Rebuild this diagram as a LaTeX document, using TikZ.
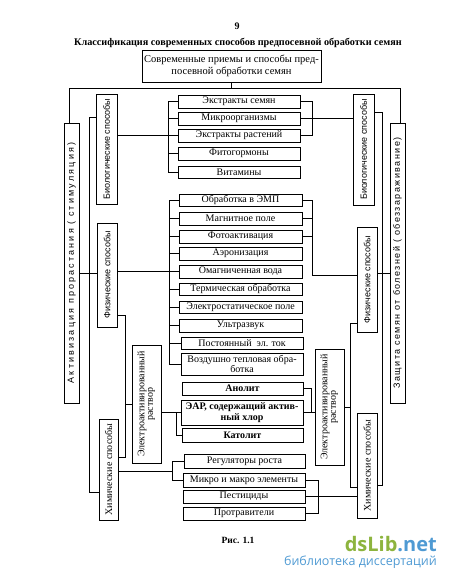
\documentclass[tikz,border=0pt]{standalone}
\usepackage{fontspec}
\usepackage{graphicx}
\setmainfont{Liberation Serif}
\setsansfont{Liberation Sans}
\newfontfamily\wmfont{Open Sans}
\definecolor{wmgreen}{HTML}{8DB43E}
\definecolor{wmblue}{HTML}{4F9AD3}
\newcommand{\bxnode}[7]{\node[#6, minimum width={(#4-#2)*1pt}, minimum height={(#5-#3)*1pt}] (#1) at ({(#2+#4)/2},{(#3+#5)/2}) {#7};}
\newcommand{\rottext}[1]{\rotatebox{90}{#1}}
\tikzset{
  bx/.style={draw, line width=0.7pt, inner sep=0pt, align=center, font=\fontsize{10}{10.5}\selectfont},
  bxb/.style={bx, font=\bfseries\fontsize{10}{11}\selectfont},
  rb/.style={draw, line width=0.7pt, inner sep=0pt, font=\sffamily\fontsize{9}{10}\selectfont},
  rbs/.style={draw, line width=0.7pt, inner sep=0pt, font=\fontsize{10}{10.5}\selectfont},
  ln/.style={line width=0.6pt}
}
\begin{document}
\begin{tikzpicture}[x=1pt,y=-1pt]
\useasboundingbox (0,0) rectangle (450,581);
% headings
\node[font=\bfseries\fontsize{10}{12}\selectfont] (pg) at (237,26) {9};
\node[font=\bfseries\fontsize{10.2}{12}\selectfont] (ttl) at (238,43) {Классификация современных способов предпосевной обработки семян};
\bxnode{top}{142}{50}{321}{82}{bx, font=\fontsize{10.5}{12}\selectfont}{Современные приемы и способы пред-\\посевной обработки семян}
% left vertical boxes
\bxnode{actL}{64}{123}{79}{403}{rb}{\rottext{\addfontfeatures{LetterSpace=24}Активизация прорастания ( стимуляция)}}
\bxnode{bioL}{96}{94}{117}{204}{rb}{\rottext{Биологические способы}}
\bxnode{fizL}{97}{223}{117}{327}{rb}{\rottext{Физические способы}}
\bxnode{elL}{132}{345}{161}{463}{rbs}{\rottext{\begin{tabular}{@{}c@{}}Электроактивированный\\[-2pt]раствор\end{tabular}}}
\bxnode{himL}{99}{419}{118}{520}{rbs}{\rottext{Химические способы}}
% right vertical boxes
\bxnode{actR}{390}{123}{405}{403}{rb}{\rottext{\addfontfeatures{LetterSpace=16}Защита семян от болезней ( обеззараживание)}}
\bxnode{bioR}{353}{94}{374}{205}{rb}{\rottext{Биологические способы}}
\bxnode{fizR}{357}{227}{377}{332}{rb}{\rottext{Физические способы}}
\bxnode{elR}{315}{349}{344}{465}{rbs}{\rottext{\begin{tabular}{@{}c@{}}Электроактивированный\\[-2pt]раствор\end{tabular}}}
\bxnode{himR}{357}{413}{377}{518}{rbs}{\rottext{Химические способы}}
% biological items
\bxnode{b1}{178}{95}{300}{108}{bx}{Экстракты семян}
\bxnode{b2}{178}{112}{300}{125}{bx}{Микроорганизмы}
\bxnode{b3}{178}{129}{300}{142}{bx}{Экстракты растений}
\bxnode{b4}{178}{147}{300}{160}{bx}{Фитогормоны}
\bxnode{b5}{178}{166}{300}{178}{bx}{Витамины}
% physical items
\bxnode{p1}{179}{194}{302}{206}{bx}{Обработка в ЭМП}
\bxnode{p2}{179}{212}{302}{225}{bx}{Магнитное поле}
\bxnode{p3}{179}{230}{302}{243}{bx}{Фотоактивация}
\bxnode{p4}{179}{247}{302}{260}{bx}{Аэронизация}
\bxnode{p5}{179}{265}{302}{278}{bx}{Омагниченная вода}
\bxnode{p6}{179}{283}{302}{295}{bx}{Термическая обработка}
\bxnode{p7}{179}{301}{302}{313}{bx}{Электростатическое поле}
\bxnode{p8}{179}{319}{302}{332}{bx}{Ультразвук}
\bxnode{p9}{181}{337}{303}{349}{bx}{Постоянный\ \ эл. ток}
\bxnode{p10}{181}{353}{303}{375}{bx}{Воздушно тепловая обра-\\ботка}
% electroactivated items
\bxnode{e1}{182}{382}{303}{395}{bxb}{Анолит}
\bxnode{e2}{181}{400}{303}{425}{bxb}{ЭАР, содержащий актив-\\ный хлор}
\bxnode{e3}{182}{428}{303}{442}{bxb}{Католит}
% chemical items
\bxnode{c1}{184}{454}{305}{468}{bx}{Регуляторы роста}
\bxnode{c2}{183}{473}{305}{487}{bx}{Микро и макро элементы}
\bxnode{c3}{183}{490}{305}{503}{bx}{Пестициды}
\bxnode{c4}{183}{507}{305}{520}{bx}{Протравители}
% caption and watermark
\node[font=\bfseries\fontsize{9.5}{11}\selectfont] (cap) at (238,540) {Рис. 1.1};
\node[font=\wmfont\bfseries\fontsize{20}{22}\selectfont, anchor=east, inner sep=0pt] (wm1) at (437,544) {\textcolor{wmgreen}{ds}\textcolor{wmgreen}{Lib}\textcolor{wmblue}{.net}};
\node[font=\wmfont\fontsize{12.5}{14}\selectfont, text=wmblue, anchor=east, inner sep=0pt] (wm2) at (437,562) {библиотека диссертаций};
% ---------- connectors
\coordinate (tL) at (69,88);
\coordinate (tR) at (400,88);
\draw[ln] (top.south) -- (top.south |- tL);
\draw[ln] (tL |- actL.north) -- (tL) -- (tR) -- (tR |- actR.north);
% left bus
\coordinate (LB1) at (89,117);
\coordinate (LB2) at (89,492);
\coordinate (LA) at (89,273);
\draw[ln] (bioL.west |- LB1) -- (LB1) -- (LB2) -- (himL.west |- LB2);
\draw[ln] (actL.east |- LA) -- (fizL.west |- LA);
% right bus
\coordinate (RB1) at (382,112);
\coordinate (RB2) at (382,485);
\coordinate (RA) at (382,273);
\draw[ln] (bioR.east |- RB1) -- (RB1) -- (RB2) -- (himR.east |- RB2);
\draw[ln] (fizR.east |- RA) -- (actR.west |- RA);
% left biological bracket
\coordinate (LBb) at (168,0);
\draw[ln] (b1.west) -- (b1.west -| LBb) -- (b5.west -| LBb) -- (b5.west);
\foreach \n in {b2,b4} \draw[ln] (\n.west) -- (\n.west -| LBb);
\draw[ln] (bioL.east |- b3.west) -- (b3.west);
% right biological bracket
\coordinate (RBb) at (312,0);
\draw[ln] (b1.east) -- (b1.east -| RBb) -- (b3.east -| RBb) -- (b3.east);
\draw[ln] (b2.east) -- (bioR.west |- b2.east);
% left physical bracket
\coordinate (LPb) at (169,0);
\draw[ln] (p1.west) -- (p1.west -| LPb) -- (p10.west -| LPb) -- (p10.west);
\foreach \n in {p2,p3,p4,p6,p7,p8,p9} \draw[ln] (\n.west) -- (\n.west -| LPb);
\draw[ln] (fizL.east |- p5.west) -- (p5.west);
% right physical bracket
\coordinate (RPc) at (312,275);
\draw[ln] (p1.east) -- (p1.east -| RPc) -- (RPc) -- (fizR.west |- RPc);
\foreach \n in {p2,p3} \draw[ln] (\n.east) -- (\n.east -| RPc);
% left phys-chem link
\coordinate (LX1) at (125,315);
\coordinate (LX2) at (125,457);
\draw[ln] (fizL.east |- LX1) -- (LX1) -- (LX2) -- (himL.east |- LX2);
\draw[ln] (elL.west) -- (elL.west -| LX1);
% left EAR bracket
\coordinate (LEc) at (176,0);
\draw[ln] (elL.east |- e2.west) -- (e2.west);
\draw[ln] (e2.west -| LEc) -- (e3.west -| LEc) -- (e3.west);
% right EAR bracket
\coordinate (REc) at (311,0);
\draw[ln] (e1.east) -- (e1.east -| REc) -- (e2.east -| REc);
\draw[ln] (e2.east) -- (elR.west |- e2.east);
% right phys-chem link
\coordinate (RX1) at (350,323);
\coordinate (RX2) at (350,487);
\draw[ln] (fizR.west |- RX1) -- (RX1) -- (RX2) -- (himR.west |- RX2);
\draw[ln] (elR.east) -- (elR.east -| RX1);
% left chemical bracket
\coordinate (LC) at (172,471);
\draw[ln] (c1.west) -- (c1.west -| LC) -- (c2.west -| LC) -- (c2.west);
\draw[ln] (himL.east |- LC) -- (LC);
% right chemical bracket
\coordinate (RCb) at (318,0);
\draw[ln] (c2.east) -- (c2.east -| RCb) -- (c4.east -| RCb) -- (c4.east);
\draw[ln] (c3.east) -- (himR.west |- c3.east);
\end{tikzpicture}
\end{document}
